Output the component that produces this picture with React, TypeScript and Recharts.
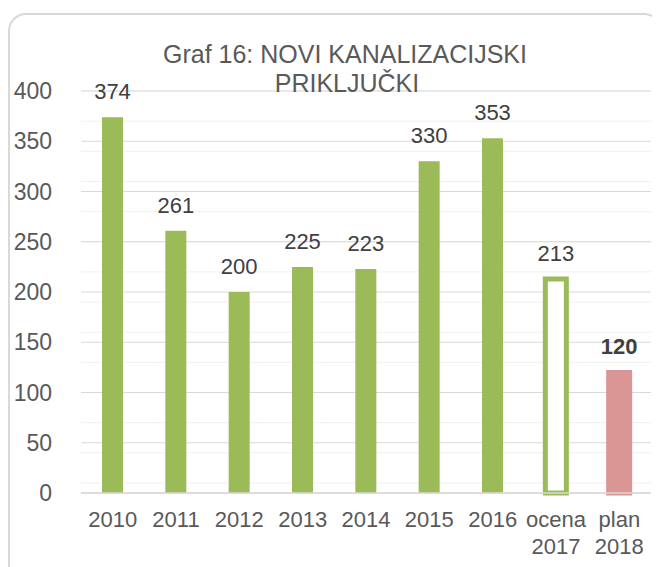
import React from 'react';
import { BarChart, Bar, XAxis, YAxis, CartesianGrid, Cell, LabelList } from 'recharts';

const categories = ['2010', '2011', '2012', '2013', '2014', '2015', '2016', 'ocena 2017', 'plan 2018'];
const values = [374, 261, 200, 225, 223, 330, 353, 213, 120];
const majorTicks = [0, 50, 100, 150, 200, 250, 300, 350, 400];
const minorTicks = [0, 10, 20, 30, 40, 50, 60, 70, 80, 90, 100, 110, 120, 130, 140, 150, 160, 170, 180, 190, 200, 210, 220, 230, 240, 250, 260, 270, 280, 290, 300, 310, 320, 330, 340, 350, 360, 370, 380, 390, 400];
const titleLines = ['Graf 16: NOVI KANALIZACIJSKI', 'PRIKLJUČKI'];

const data = categories.map((c, i) => ({ name: c, value: values[i] }));

const FONT = '"Liberation Sans", Arial, sans-serif';
const GREEN = '#9BBB59';
const PINK = '#D99694';

const XTick = (props: any) => {
  const { x, y, payload } = props;
  const parts = String(payload.value).split(' ');
  return (
    <g>
      {parts.map((p: string, i: number) => (
        <text key={i} x={x} y={y + 34 + i * 27} textAnchor="middle" fill="#595959" fontSize={22} fontFamily={FONT}>
          {p}
        </text>
      ))}
    </g>
  );
};

const ValueLabel = (props: any) => {
  const { x, y, width, value, index } = props;
  return (
    <text
      x={x + width / 2}
      y={y - 18}
      textAnchor="middle"
      fill="#404040"
      fontSize={22}
      fontWeight={index === 8 ? 'bold' : 'normal'}
      fontFamily={FONT}
    >
      {value}
    </text>
  );
};

export default function App() {
  return (
    <div style={{ position: 'relative', width: 652, height: 559, overflow: 'hidden', background: '#fff' }}>
      <style>{'body{overflow:hidden}'}</style>
      <div
        style={{
          position: 'absolute',
          left: 0,
          top: 5,
          width: 654,
          height: 570,
          border: '2px solid #d9d9d9',
          borderRadius: 18,
          boxSizing: 'border-box',
        }}
      />
      <div style={{ position: 'absolute', left: 0, top: 0 }}>
        <BarChart
          width={652}
          height={559}
          data={data}
          margin={{ top: 83, right: 9, left: 0, bottom: 14 }}
          barSize={21}
        >
          <CartesianGrid vertical={false} horizontalValues={minorTicks} stroke="#f0f0f0" strokeWidth={1} />
          <CartesianGrid vertical={false} horizontalValues={majorTicks} stroke="#d9d9d9" strokeWidth={1.2} />
          <XAxis
            dataKey="name"
            height={60}
            axisLine={{ stroke: '#d9d9d9', strokeWidth: 1.6 }}
            tickLine={false}
            tickSize={0}
            tickMargin={0}
            interval={0}
            tick={<XTick />}
          />
          <YAxis
            width={73}
            domain={[0, 400]}
            ticks={majorTicks}
            axisLine={false}
            tickLine={false}
            tickSize={0}
            tickMargin={29}
            tick={{ fill: '#595959', fontSize: 23, fontFamily: FONT }}
          />
          <Bar dataKey="value" isAnimationActive={false}>
            {data.map((d, i) => (
              <Cell
                key={i}
                fill={i === 7 ? '#ffffff' : i === 8 ? PINK : GREEN}
                stroke={i === 7 ? GREEN : i === 8 ? PINK : 'none'}
                strokeWidth={i >= 7 ? 5 : 0}
              />
            ))}
            <LabelList dataKey="value" content={<ValueLabel />} />
          </Bar>
        </BarChart>
      </div>
      <svg width={652} height={559} style={{ position: 'absolute', left: 0, top: 0, pointerEvents: 'none' }}>
        <text x={337} y={55} textAnchor="middle" fill="#595959" fontSize={25} fontFamily={FONT}>
          {titleLines[0]}
        </text>
        <text x={339} y={84} textAnchor="middle" fill="#595959" fontSize={25} fontFamily={FONT}>
          {titleLines[1]}
        </text>
      </svg>
    </div>
  );
}
